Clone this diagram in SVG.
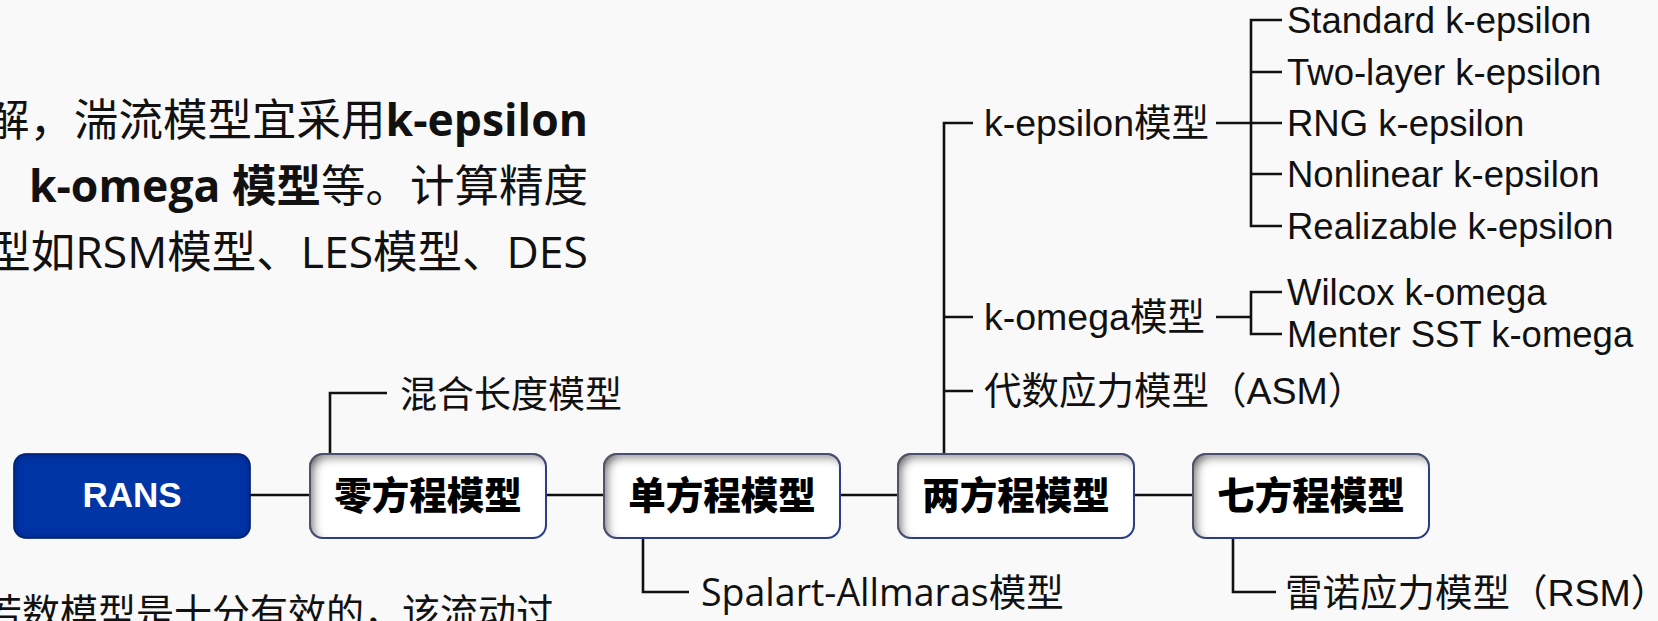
<svg xmlns="http://www.w3.org/2000/svg" width="1658" height="621" viewBox="0 0 1658 621">
<defs>
<style>
.para{font-family:"Open Sans","Noto Sans CJK SC",sans-serif;font-size:44.5px;fill:#111}
.b{font-weight:700}
.lbl{font-family:"Liberation Sans","Noto Sans CJK SC",sans-serif;font-size:36.5px;fill:#111}
.lblc{font-family:"Liberation Sans","Noto Sans CJK SC",sans-serif;font-size:37.5px;fill:#111}
.lblo{font-family:"Open Sans","Noto Sans CJK SC",sans-serif;font-size:37.5px;fill:#111}
.cjk{font-family:"Noto Sans CJK SC",sans-serif;font-size:37px;fill:#111}
.ntext{font-family:"Noto Sans CJK SC",sans-serif;font-size:37.5px;font-weight:900;fill:#000;text-anchor:middle}
.rtext{font-family:"Liberation Sans",Arial,sans-serif;font-size:35px;font-weight:700;fill:#fff;text-anchor:middle}
.box{fill:#fff;stroke:#233a8c;stroke-width:2}
.rbox{fill:#0636a6;stroke:#0a2a80;stroke-width:1.5}
.ln{fill:none;stroke:#111;stroke-width:2.6}
</style>
<filter id="inner" x="-5%" y="-10%" width="110%" height="120%">
<feFlood flood-color="#5a5a5a" result="f"/>
<feComposite in="f" in2="SourceAlpha" operator="out" result="o"/>
<feGaussianBlur in="o" stdDeviation="5" result="bl"/>
<feOffset in="bl" dx="5" dy="5" result="off"/>
<feComposite in="off" in2="SourceAlpha" operator="in" result="sh"/>
<feMerge><feMergeNode in="SourceGraphic"/><feMergeNode in="sh"/></feMerge>
</filter>
<filter id="innerb" x="-5%" y="-10%" width="110%" height="120%">
<feFlood flood-color="#001a66" result="f"/>
<feComposite in="f" in2="SourceAlpha" operator="out" result="o"/>
<feGaussianBlur in="o" stdDeviation="4" result="bl"/>
<feComposite in="bl" in2="SourceAlpha" operator="in" result="sh"/>
<feMerge><feMergeNode in="SourceGraphic"/><feMergeNode in="sh"/></feMerge>
</filter>
</defs>
<rect x="0" y="0" width="1658" height="621" fill="#f9f9f9"/>

<g id="paragraph">
<text class="para" x="588" y="136" text-anchor="end">解，湍流模型宜采用<tspan class="b">k-epsilon</tspan></text>
<text class="para" x="588" y="202" text-anchor="end">、<tspan class="b">k-omega 模型</tspan>等。计算精度</text>
<text class="para" x="588" y="268" text-anchor="end">型如RSM模型、LES模型、DES</text>
<text class="para" x="-16" y="626" style="font-size:38px">若数模型是十分有效的，该流动过</text>
</g>

<g id="connectors">
<path class="ln" d="M250 495H310M546 495H604M840 495H898M1134 495H1193"/>
<path class="ln" d="M330 454V393H387"/>
<path class="ln" d="M643 538V592H689"/>
<path class="ln" d="M1233 538V592H1276"/>
<path class="ln" d="M944 454V123H973M944 317H973M944 391H973"/>
<path class="ln" d="M1216 123H1282M1282 20H1251V226H1282M1251 72H1282M1251 174H1282"/>
<path class="ln" d="M1216 317H1251M1282 292H1251V334H1282"/>
</g>

<g id="rans">
<rect class="rbox" x="14" y="454" width="236" height="84" rx="12" filter="url(#innerb)"/>
<text class="rtext" x="132" y="507">RANS</text>
</g>
<g id="zero-eq">
<rect class="box" x="310" y="454" width="236" height="84" rx="13" filter="url(#inner)"/>
<text class="ntext" x="428" y="509">零方程模型</text>
</g>
<g id="one-eq">
<rect class="box" x="604" y="454" width="236" height="84" rx="13" filter="url(#inner)"/>
<text class="ntext" x="722" y="509">单方程模型</text>
</g>
<g id="two-eq">
<rect class="box" x="898" y="454" width="236" height="84" rx="13" filter="url(#inner)"/>
<text class="ntext" x="1016" y="509">两方程模型</text>
</g>
<g id="seven-eq">
<rect class="box" x="1193" y="454" width="236" height="84" rx="13" filter="url(#inner)"/>
<text class="ntext" x="1311" y="509">七方程模型</text>
</g>

<g id="mixing-length"><text class="cjk" x="400" y="408">混合长度模型</text></g>
<g id="spalart"><text class="lblo" x="701" y="606">Spalart-Allmaras模型</text></g>
<g id="rsm"><text class="lblc" x="1285" y="606">雷诺应力模型（RSM）</text></g>

<g id="k-epsilon"><text class="lblc" x="984" y="136">k-epsilon模型</text></g>
<g id="k-omega"><text class="lblc" x="984" y="330">k-omega模型</text></g>
<g id="asm"><text class="lblc" x="984" y="404">代数应力模型（ASM）</text></g>

<g id="ke-standard"><text class="lbl" x="1287" y="33">Standard k-epsilon</text></g>
<g id="ke-twolayer"><text class="lbl" x="1287" y="85">Two-layer k-epsilon</text></g>
<g id="ke-rng"><text class="lbl" x="1287" y="136">RNG k-epsilon</text></g>
<g id="ke-nonlinear"><text class="lbl" x="1287" y="187">Nonlinear k-epsilon</text></g>
<g id="ke-realizable"><text class="lbl" x="1287" y="239">Realizable k-epsilon</text></g>
<g id="ko-wilcox"><text class="lbl" x="1287" y="305">Wilcox k-omega</text></g>
<g id="ko-menter"><text class="lbl" x="1287" y="347">Menter SST k-omega</text></g>
</svg>
